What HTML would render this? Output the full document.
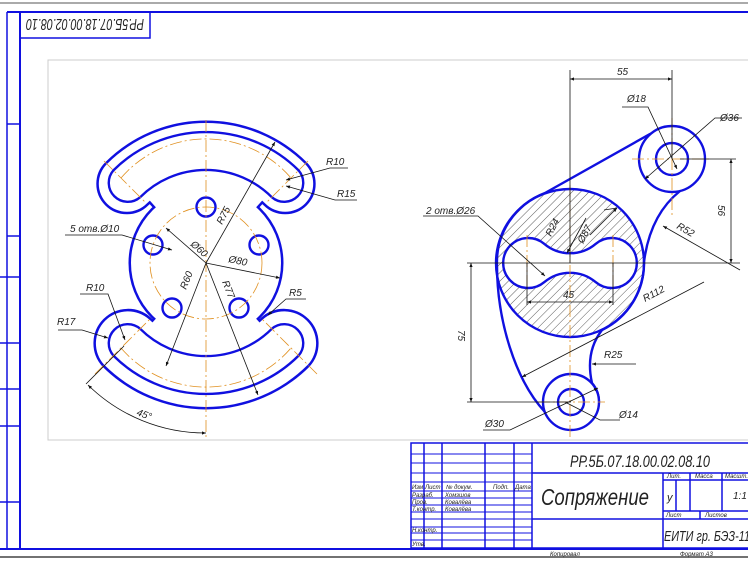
<!DOCTYPE html>
<html><head><meta charset="utf-8"><style>
html,body{margin:0;padding:0;background:#fff}
svg{display:block}
text{font-family:"Liberation Sans","DejaVu Sans",sans-serif;font-style:italic;fill:#222}
</style></head><body>
<svg width="748" height="561" viewBox="0 0 748 561" xmlns="http://www.w3.org/2000/svg">
<defs>
<pattern id="h" width="6" height="6" patternUnits="userSpaceOnUse" patternTransform="rotate(45)">
<line x1="0" y1="0" x2="0" y2="6" stroke="#333" stroke-width="0.8"/>
</pattern>
<marker id="a" viewBox="0 0 10 10" refX="10" refY="5" markerWidth="7" markerHeight="5" orient="auto-start-reverse"><path d="M0,1 L10,5 L0,9z" fill="#111"/></marker>
</defs>
<rect width="748" height="561" fill="#fff"/>
<line x1="0" y1="3" x2="748" y2="3" stroke="#555" stroke-width="1"/>
<line x1="7" y1="12" x2="748" y2="12" stroke="#1010e0" stroke-width="2"/>
<line x1="20" y1="12" x2="20" y2="550" stroke="#1010e0" stroke-width="2"/>
<line x1="7" y1="12" x2="7" y2="550" stroke="#1010e0" stroke-width="1.5"/>
<g stroke="#1010e0" stroke-width="1.5">
<line x1="7" y1="124" x2="20" y2="124"/><line x1="7" y1="236" x2="20" y2="236"/>
<line x1="0" y1="277" x2="20" y2="277"/><line x1="0" y1="343" x2="20" y2="343"/>
<line x1="0" y1="389" x2="20" y2="389"/><line x1="0" y1="426" x2="20" y2="426"/>
<line x1="0" y1="502" x2="20" y2="502"/>
</g>
<line x1="0" y1="549" x2="748" y2="549" stroke="#1010e0" stroke-width="2"/>
<line x1="0" y1="557" x2="748" y2="557" stroke="#444" stroke-width="1.5"/>
<rect x="20" y="12" width="130" height="26" fill="none" stroke="#1010e0" stroke-width="1.5"/>
<text x="85" y="25" font-size="16" text-anchor="middle" textLength="118" lengthAdjust="spacingAndGlyphs" transform="rotate(180 85 25)" dy="6">РР.5Б.07.18.00.02.08.10</text>
<rect x="48" y="60" width="710" height="380" fill="none" stroke="#ccc" stroke-width="1"/>

<g>
<g fill="#1010e0" stroke="#1010e0" stroke-width="5">
<path d="M107,164 A140 140 0 0 1 305,164 A28 28 0 0 1 265.4,203.6 A84 84 0 0 0 146.6,203.6 A28 28 0 0 1 107,164Z"/>
<path d="M104.2,364.8 A144 144 0 0 0 307.8,364.8 A32 32 0 0 0 262.6,319.6 A80 80 0 0 1 149.4,319.6 A32 32 0 0 0 104.2,364.8Z"/>
<path d="M148.5,199.1 A86 86 0 0 1 263.5,199.1 L252.8,211 A70 70 0 0 0 159.2,211Z"/>
<path d="M148.5,326.9 A86 86 0 0 0 263.5,326.9 L252.8,315 A70 70 0 0 1 159.2,315Z"/>
<circle cx="206" cy="263" r="75"/>
</g>
<g fill="#fff" stroke="none">
<path d="M107,164 A140 140 0 0 1 305,164 A28 28 0 0 1 265.4,203.6 A84 84 0 0 0 146.6,203.6 A28 28 0 0 1 107,164Z"/>
<path d="M104.2,364.8 A144 144 0 0 0 307.8,364.8 A32 32 0 0 0 262.6,319.6 A80 80 0 0 1 149.4,319.6 A32 32 0 0 0 104.2,364.8Z"/>
<path d="M148.5,199.1 A86 86 0 0 1 263.5,199.1 L252.8,211 A70 70 0 0 0 159.2,211Z"/>
<path d="M148.5,326.9 A86 86 0 0 0 263.5,326.9 L252.8,315 A70 70 0 0 1 159.2,315Z"/>
<circle cx="206" cy="263" r="75"/>
</g>
<g fill="none" stroke="#1010e0" stroke-width="2.4">
<path d="M113.4,170.4 A131 131 0 0 1 298.6,170.4 A19 19 0 0 1 271.8,197.2 A93 93 0 0 0 140.2,197.2 A19 19 0 0 1 113.4,170.4Z"/>
<path d="M113.4,355.6 A131 131 0 0 0 298.6,355.6 A19 19 0 0 0 271.8,328.8 A93 93 0 0 1 140.2,328.8 A19 19 0 0 0 113.4,355.6Z"/>
<circle cx="206" cy="207" r="9.5"/><circle cx="153" cy="245" r="9.5"/><circle cx="259" cy="245" r="9.5"/>
<circle cx="172" cy="308" r="9.5"/><circle cx="239" cy="308" r="9.5"/>
</g>
<g fill="none" stroke="#e09020" stroke-width="0.8" stroke-dasharray="12 3 2 3">
<line x1="206" y1="120" x2="206" y2="437"/>
<circle cx="206" cy="263" r="56"/>
<path d="M121,178 A112 112 0 0 1 291,178"/>
<path d="M121,348 A112 112 0 0 0 291,348"/>
<line x1="104" y1="161" x2="145" y2="202"/><line x1="308" y1="161" x2="267" y2="202"/>
<line x1="95" y1="374" x2="150" y2="319"/><line x1="317" y1="374" x2="262" y2="319"/>
</g>
<g stroke="#111" stroke-width="0.8" fill="none">
<line x1="206" y1="263" x2="275" y2="142" marker-end="url(#a)"/>
<line x1="206" y1="263" x2="166" y2="228" marker-end="url(#a)"/>
<line x1="206" y1="263" x2="280" y2="278" marker-end="url(#a)"/>
<line x1="206" y1="263" x2="166" y2="366" marker-end="url(#a)"/>
<line x1="206" y1="263" x2="258" y2="395" marker-end="url(#a)"/>
<polyline points="65,235 122,235 172,250" marker-end="url(#a)"/>
<polyline points="80,294 108,294 125,340" marker-end="url(#a)"/>
<polyline points="58,330 82,330 108,338" marker-end="url(#a)"/>
<polyline points="348,168 330,168 286,180" marker-end="url(#a)"/>
<polyline points="357,200 335,200 286,186" marker-end="url(#a)"/>
<polyline points="306,299 286,299 268,315" marker-end="url(#a)"/>
<line x1="86" y1="384" x2="124" y2="346"/>
<path d="M88,385 A168 168 0 0 0 206,433" marker-start="url(#a)" marker-end="url(#a)"/>
</g>
<g font-size="10">
<text x="70" y="232">5 отв.Ø10</text>
<text x="86" y="291">R10</text>
<text x="57" y="325">R17</text>
<text x="326" y="165">R10</text>
<text x="337" y="197">R15</text>
<text x="289" y="296">R5</text>
<text x="136" y="415" transform="rotate(20 136 415)">45°</text>
<text x="222" y="225" transform="rotate(-62 222 225)">R75</text>
<text x="190" y="245" transform="rotate(42 190 245)">Ø60</text>
<text x="228" y="262" transform="rotate(12 228 262)">Ø80</text>
<text x="186" y="290" transform="rotate(-68 186 290)">R60</text>
<text x="222" y="282" transform="rotate(68 222 282)">R77</text>
</g>
</g>

<g>
<path d="M545,193 L650,134 A33 33 0 0 1 680,191 Q650,215 644,262 A74 74 0 0 1 602,330 Q585,352 592,383 A28 28 0 1 1 545,412 C515,380 497,320 497,265 A74 74 0 0 1 545,193Z" fill="#fff" stroke="#1010e0" stroke-width="2.4"/>
<circle cx="570" cy="263" r="74" fill="url(#h)" stroke="#1010e0" stroke-width="2.4"/>
<path d="M544.2,243.8 A40 40 0 0 0 595.8,243.8 A25 25 0 1 1 595.8,282.2 A40 40 0 0 0 544.2,282.2 A25 25 0 1 1 544.2,243.8Z" fill="#fff" stroke="#1010e0" stroke-width="2.4"/>
<circle cx="672" cy="159" r="33" fill="#fff" stroke="#1010e0" stroke-width="2.4"/>
<circle cx="672" cy="159" r="16" fill="none" stroke="#1010e0" stroke-width="2.4"/>
<circle cx="571" cy="402" r="28" fill="#fff" stroke="#1010e0" stroke-width="2.4"/>
<circle cx="571" cy="402" r="13" fill="none" stroke="#1010e0" stroke-width="2.4"/>
<g stroke="#e09020" stroke-width="0.8" stroke-dasharray="12 3 2 3" fill="none">
<line x1="570" y1="185" x2="570" y2="440"/>
<line x1="527" y1="235" x2="527" y2="290"/><line x1="613" y1="235" x2="613" y2="290"/>
<line x1="632" y1="159" x2="710" y2="159"/><line x1="672" y1="118" x2="672" y2="215"/>
<line x1="538" y1="402" x2="605" y2="402"/>
</g>
<g stroke="#111" stroke-width="0.8" fill="none">
<line x1="570" y1="70" x2="570" y2="263"/>
<line x1="672" y1="70" x2="672" y2="159"/>
<line x1="570" y1="79" x2="672" y2="79" marker-start="url(#a)" marker-end="url(#a)"/>
<line x1="680" y1="159" x2="736" y2="159"/>
<line x1="731" y1="159" x2="731" y2="263" marker-start="url(#a)" marker-end="url(#a)"/>
<line x1="467" y1="263" x2="740" y2="263"/>
<line x1="467" y1="402" x2="571" y2="402"/>
<line x1="471" y1="263" x2="471" y2="402" marker-start="url(#a)" marker-end="url(#a)"/>
<line x1="527" y1="263" x2="527" y2="305"/><line x1="613" y1="263" x2="613" y2="305"/>
<line x1="527" y1="302" x2="613" y2="302" marker-start="url(#a)" marker-end="url(#a)"/>
<polyline points="622,107 648,107 677,169" marker-end="url(#a)"/>
<polyline points="742,118 715,118 645,179" marker-end="url(#a)"/>
<polyline points="423,216 478,216 545,276" marker-end="url(#a)"/>
<line x1="740" y1="270" x2="663" y2="226" marker-end="url(#a)"/>
<line x1="704" y1="282" x2="522" y2="377" marker-end="url(#a)"/>
<line x1="636" y1="364" x2="592" y2="364" marker-end="url(#a)"/>
<line x1="567" y1="253" x2="586" y2="218" marker-start="url(#a)"/>
<line x1="604" y1="210" x2="617" y2="208"/><line x1="590" y1="235" x2="617" y2="208" marker-end="url(#a)"/>
<polyline points="483,430 510,430 598,388" marker-end="url(#a)"/>
<polyline points="620,420 600,420 565,402"/>
</g>
<g font-size="10">
<text x="617" y="75">55</text>
<text x="627" y="102">Ø18</text>
<text x="720" y="121">Ø36</text>
<text x="426" y="214">2 отв.Ø26</text>
<text x="551" y="237" transform="rotate(-62 551 237)">R24</text>
<text x="583" y="244" transform="rotate(-62 583 244)">Ø87</text>
<text x="676" y="228" transform="rotate(30 676 228)">R52</text>
<text x="718" y="205" transform="rotate(90 718 205)">56</text>
<text x="645" y="302" transform="rotate(-28 645 302)">R112</text>
<text x="604" y="358">R25</text>
<text x="458" y="330" transform="rotate(90 458 330)">75</text>
<text x="563" y="298">45</text>
<text x="485" y="427">Ø30</text>
<text x="619" y="418">Ø14</text>
</g>
</g>

<g stroke="#1010e0" stroke-width="1.5" fill="none">
<rect x="411" y="443" width="340" height="105"/>
<line x1="532" y1="443" x2="532" y2="548"/>
<line x1="424" y1="443" x2="424" y2="548"/>
<line x1="442" y1="443" x2="442" y2="548"/>
<line x1="485" y1="443" x2="485" y2="548"/>
<line x1="514" y1="443" x2="514" y2="548"/>
<line x1="532" y1="473" x2="748" y2="473"/>
<line x1="532" y1="519" x2="748" y2="519"/>
<line x1="663" y1="473" x2="663" y2="548"/>
<line x1="690" y1="473" x2="690" y2="511"/>
<line x1="722" y1="473" x2="722" y2="511"/>
<line x1="676" y1="480" x2="676" y2="511"/>
<line x1="663" y1="480" x2="748" y2="480"/>
<line x1="663" y1="511" x2="748" y2="511"/>
<line x1="700" y1="511" x2="700" y2="519"/>
</g>
<g stroke="#1010e0" stroke-width="1">
<line x1="411" y1="454" x2="532" y2="454"/><line x1="411" y1="463" x2="532" y2="463"/>
<line x1="411" y1="473" x2="532" y2="473"/><line x1="411" y1="482" x2="532" y2="482"/>
<line x1="411" y1="491" x2="532" y2="491"/><line x1="411" y1="498" x2="532" y2="498"/>
<line x1="411" y1="505" x2="532" y2="505"/><line x1="411" y1="512" x2="532" y2="512"/>
<line x1="411" y1="519" x2="532" y2="519"/><line x1="411" y1="527" x2="532" y2="527"/>
<line x1="411" y1="533" x2="532" y2="533"/><line x1="411" y1="540" x2="532" y2="540"/>
</g>
<g font-size="6">
<text x="412" y="489">Изм</text><text x="425" y="489">Лист</text><text x="446" y="489">№ докум.</text><text x="493" y="489">Подп.</text><text x="515" y="489">Дата</text>
<text x="412" y="497">Разраб.</text><text x="445" y="497">Хомзшов</text>
<text x="412" y="504">Пров.</text><text x="445" y="504">Ковалёва</text>
<text x="412" y="511">Т.контр.</text><text x="445" y="511">Ковалёва</text>
<text x="412" y="532">Н.контр.</text><text x="412" y="546">Утв.</text>
<text x="667" y="478">Лит.</text><text x="695" y="478">Масса</text><text x="725" y="478">Масшт.</text>
<text x="666" y="517">Лист</text><text x="705" y="517">Листов</text>
<text x="550" y="556">Копировал</text><text x="680" y="556">Формат   А3</text>
</g>
<text x="570" y="467" font-size="17" textLength="140" lengthAdjust="spacingAndGlyphs">РР.5Б.07.18.00.02.08.10</text>
<text x="541" y="505" font-size="23" textLength="108" lengthAdjust="spacingAndGlyphs">Сопряжение</text>
<text x="667" y="501" font-size="11">у</text>
<text x="733" y="499" font-size="10">1:1</text>
<text x="664" y="541" font-size="15" textLength="86" lengthAdjust="spacingAndGlyphs">ЕИТИ гр. БЭЗ-11</text>
</svg>
</body></html>
